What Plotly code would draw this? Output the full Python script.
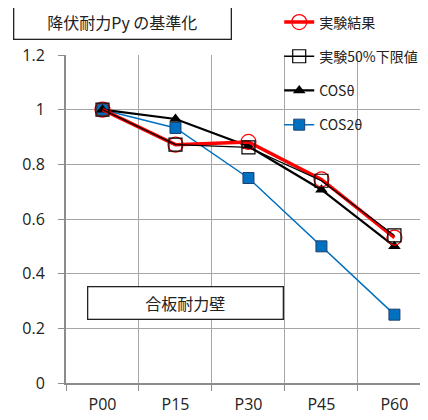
import plotly.graph_objects as go

categories = ["P00", "P15", "P30", "P45", "P60"]
jikken = [1.0, 0.872, 0.882, 0.745, 0.532]
jikken50 = [1.0, 0.872, 0.862, 0.74, 0.54]
cos_t = [1.0, 0.966, 0.866, 0.707, 0.5]
cos_2t = [1.0, 0.933, 0.75, 0.5, 0.25]
y_ticks = [0, 0.2, 0.4, 0.6, 0.8, 1, 1.2]
y_tick_text = ["0", "0.2", "0.4", "0.6", "0.8", "1", "1.2"]

FONT = "Open Sans, Noto Sans CJK JP, sans-serif"
JP = "Noto Sans CJK JP, sans-serif"

fig = go.Figure()
fig.add_trace(go.Scatter(
    x=categories, y=cos_2t, name="COS2θ", legendgroup="d", legendrank=4,
    mode="lines+markers", line=dict(color="#0070C0", width=1.5),
    marker=dict(symbol="square", size=11, color="#0070C0", line=dict(color="#1f3f6f", width=1))))
fig.add_trace(go.Scatter(
    x=categories, y=cos_t, name="COSθ", legendgroup="c", legendrank=3,
    mode="lines+markers", line=dict(color="black", width=2.2),
    marker=dict(symbol="triangle-up", size=11, color="black")))
fig.add_trace(go.Scatter(
    x=categories, y=jikken, name="実験結果", legendgroup="a", legendrank=1,
    mode="lines+markers", line=dict(color="#ff0000", width=3.5),
    marker=dict(symbol="circle-open", size=15, color="#ff0000", line=dict(width=1.2))))
fig.add_trace(go.Scatter(
    x=categories, y=jikken50, name="実験50%下限値", legendgroup="b", legendrank=2,
    mode="lines+markers", line=dict(color="black", width=1.3),
    marker=dict(symbol="square-open", size=13, color="black", line=dict(width=1.2))))

# page body has an 8px default margin, so the figure is 420x412 offset by 8px
fig.update_layout(
    width=420, height=412,
    margin=dict(l=58, r=0, t=47, b=37, autoexpand=False),
    paper_bgcolor="white", plot_bgcolor="white",
    font=dict(family=FONT, size=15, color="#222"),
    showlegend=True,
    legend=dict(x=0.589, y=1.148, xanchor="left", yanchor="top",
                bgcolor="rgba(0,0,0,0)", font=dict(family=JP, size=14, color="#222"),
                traceorder="grouped", tracegroupgap=13, itemwidth=30),
    xaxis=dict(range=[-0.5, 4.46], tickson="boundaries", showgrid=True,
               gridcolor="#a6a6a6", gridwidth=1, showline=True, linecolor="#8c8c8c",
               linewidth=2, ticks="outside", ticklen=6, tickcolor="#8c8c8c",
               tickfont=dict(size=16, family=FONT, color="#222"), zeroline=False,
               ticklabelstandoff=6, automargin=False),
    yaxis=dict(range=[0, 1.2], tickvals=y_ticks, ticktext=y_tick_text, showgrid=True,
               gridcolor="#a6a6a6", gridwidth=1, showline=True, linecolor="#8c8c8c",
               linewidth=2, ticks="outside", ticklen=6, tickcolor="#8c8c8c",
               tickfont=dict(size=16, family=FONT, color="#222"), zeroline=False,
               ticklabelstandoff=10, automargin=False),
    annotations=[
        dict(text="降伏耐力Py の基準化", xref="paper", yref="paper",
             x=(122 - 66) / 362, y=(383 - 22.5) / 328, xanchor="center", yanchor="middle",
             showarrow=False, font=dict(family=JP, size=16, color="#222"),
             bordercolor="#222", borderwidth=1.3, bgcolor="white", width=214, height=31),
        dict(text="合板耐力壁", xref="paper", yref="paper",
             x=(185 - 66) / 362, y=(383 - 303) / 328, xanchor="center", yanchor="middle",
             showarrow=False, font=dict(family=JP, size=16, color="#222"),
             bordercolor="#222", borderwidth=1.3, bgcolor="white", width=192, height=29),
    ],
)

fig.write_html("out.html")
